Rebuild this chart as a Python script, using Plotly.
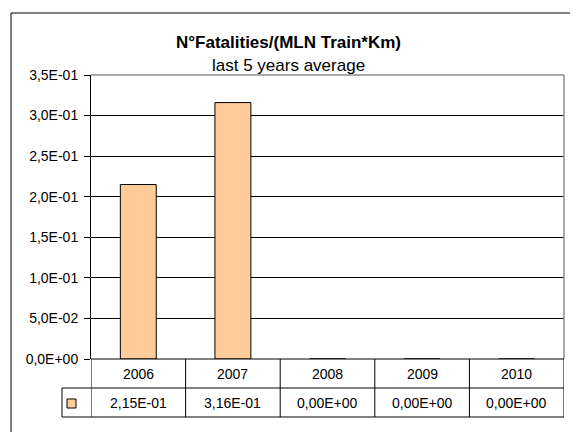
import plotly.graph_objects as go

# ---- data ----
years = ["2006", "2007", "2008", "2009", "2010"]
values = [0.215, 0.316, 0.0, 0.0, 0.0]
value_labels = ["2,15E-01", "3,16E-01", "0,00E+00", "0,00E+00", "0,00E+00"]
ytick_vals = [0.0, 0.05, 0.10, 0.15, 0.20, 0.25, 0.30, 0.35]
ytick_labels = ["0,0E+00", "5,0E-02", "1,0E-01", "1,5E-01", "2,0E-01",
                "2,5E-01", "3,0E-01", "3,5E-01"]
title_text = "N°Fatalities/(MLN Train*Km)"
subtitle_text = "last 5 years average"

# the page body has an 8px margin, so the figure starts at (8, 8) of the window
OFF = 8
W, H = 578 - OFF, 432 - OFF
ML, MT = 91 - OFF, 75 - OFF
MR, MB = 578 - 564, 432 - 359
PW, PH = W - ML - MR, H - MT - MB
FONT = "Liberation Sans, Arial, sans-serif"
BAR_COLOR = "#FFCC99"


def px_x(px):
    return (px - OFF - ML) / PW


def px_y(py):
    return (H - MB - (py - OFF)) / PH


fig = go.Figure()
fig.add_trace(go.Bar(
    x=years, y=values, width=0.38,
    marker=dict(color=BAR_COLOR, line=dict(color="black", width=1)),
    showlegend=False, hoverinfo="skip",
))

row1_bot = px_y(388)
row2_bot = px_y(417)
key_left = px_x(62)

shapes = []
# outer chart border (extends beyond the picture)
shapes.append(dict(type="rect", xref="paper", yref="paper",
                   x0=px_x(11), x1=px_x(600), y0=px_y(460), y1=px_y(13),
                   line=dict(color="black", width=1), fillcolor="rgba(0,0,0,0)",
                   layer="above"))
# plot area top and right border (gray)
shapes.append(dict(type="line", xref="paper", yref="paper", x0=0, x1=1, y0=1, y1=1,
                   line=dict(color="#8c8c8c", width=1.5), layer="above"))
shapes.append(dict(type="line", xref="paper", yref="paper", x0=1, x1=1, y0=0, y1=1,
                   line=dict(color="#8c8c8c", width=1.5), layer="above"))
# data table grid
n = len(years)
for i in range(n + 1):
    shapes.append(dict(type="line", xref="x", yref="paper", x0=i - 0.5, x1=i - 0.5,
                       y0=row2_bot, y1=0, line=dict(color="black", width=1)))
shapes.append(dict(type="line", xref="paper", yref="paper", x0=0, x1=1, y0=0, y1=0,
                   line=dict(color="black", width=1)))
for yy in (row1_bot, row2_bot):
    shapes.append(dict(type="line", xref="paper", yref="paper", x0=key_left, x1=1,
                       y0=yy, y1=yy, line=dict(color="black", width=1)))
shapes.append(dict(type="line", xref="paper", yref="paper", x0=key_left, x1=key_left,
                   y0=row2_bot, y1=row1_bot, line=dict(color="black", width=1)))
# legend key
shapes.append(dict(type="rect", xref="paper", yref="paper",
                   x0=px_x(67), x1=px_x(76), y0=px_y(408), y1=px_y(399),
                   fillcolor=BAR_COLOR, line=dict(color="black", width=1)))

annotations = []
annotations.append(dict(text="<b>" + title_text + "</b>", xref="paper", yref="paper",
                        x=px_x(288), y=px_y(42), showarrow=False,
                        font=dict(family=FONT, size=17, color="black"),
                        xanchor="center", yanchor="middle"))
annotations.append(dict(text=subtitle_text, xref="paper", yref="paper",
                        x=px_x(288), y=px_y(66), showarrow=False,
                        font=dict(family=FONT, size=17, color="black"),
                        xanchor="center", yanchor="middle"))
for i, (yr, lab) in enumerate(zip(years, value_labels)):
    annotations.append(dict(text=yr, xref="x", yref="paper", x=i,
                            y=(0 + row1_bot) / 2, showarrow=False,
                            font=dict(family=FONT, size=14, color="black"),
                            xanchor="center", yanchor="middle"))
    annotations.append(dict(text=lab, xref="x", yref="paper", x=i,
                            y=(row1_bot + row2_bot) / 2, showarrow=False,
                            font=dict(family=FONT, size=14, color="black"),
                            xanchor="center", yanchor="middle"))

fig.update_layout(
    width=W, height=H,
    margin=dict(l=ML, r=MR, t=MT, b=MB, pad=0),
    paper_bgcolor="white", plot_bgcolor="white",
    font=dict(family=FONT, size=14, color="black"),
    xaxis=dict(type="category", range=[-0.5, n - 0.5], showticklabels=False,
               showgrid=False, zeroline=False, showline=False, ticks=""),
    yaxis=dict(range=[0, 0.35], tickvals=ytick_vals, ticktext=ytick_labels,
               showgrid=True, gridcolor="black", gridwidth=1,
               zeroline=False, showline=True, linecolor="black", linewidth=1,
               ticks="outside", ticklen=6, tickcolor="black", tickwidth=1,
               ticklabelstandoff=3,
               tickfont=dict(family=FONT, size=14, color="black")),
    shapes=shapes, annotations=annotations,
)

fig.write_html("out.html")
